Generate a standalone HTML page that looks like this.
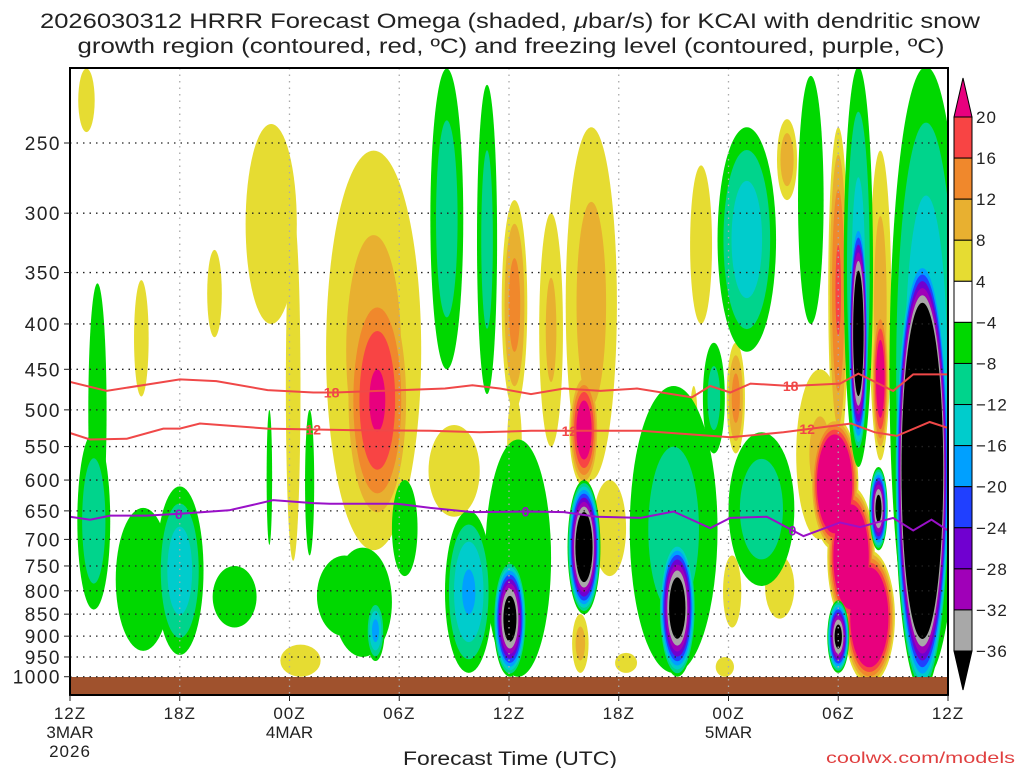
<!DOCTYPE html>
<html><head><meta charset="utf-8">
<style>
html,body{margin:0;padding:0;background:#fff;}
svg{display:block;font-family:"Liberation Sans",sans-serif;}
</style></head>
<body>
<svg id="chart" width="1024" height="768" viewBox="0 0 1024 768" xmlns="http://www.w3.org/2000/svg">
<defs><clipPath id="plotclip"><rect x="70" y="68" width="878" height="609"/></clipPath></defs>
<text x="510" y="28" text-anchor="middle" font-size="21" fill="#222" textLength="940" lengthAdjust="spacingAndGlyphs">2026030312 HRRR Forecast Omega (shaded, <tspan font-style="italic">μ</tspan>bar/s) for KCAI with dendritic snow</text>
<text x="511" y="53" text-anchor="middle" font-size="21" fill="#222" textLength="867" lengthAdjust="spacingAndGlyphs">growth region (contoured, red, ºC) and freezing level (contoured, purple, ºC)</text>
<g id="shading" clip-path="url(#plotclip)"></g>
<rect x="70" y="677" width="878" height="18" fill="#a0522d"/>
<g id="grid"></g>
<g id="lines"></g>
<g id="axes"></g>
<g id="cbar"></g>
<text x="510" y="765" text-anchor="middle" font-size="19" fill="#222" textLength="214" lengthAdjust="spacingAndGlyphs">Forecast Time (UTC)</text>
<text x="1015" y="763" text-anchor="end" font-size="16" fill="#e04040" textLength="189" lengthAdjust="spacingAndGlyphs">coolwx.com/models</text>
</svg>
<script>
// ---- data ----
const pressureTicks=[250,300,350,400,450,500,550,600,650,700,750,800,850,900,950,1000];
const timeTicks=[0,6,12,18,24,30,36,42,48];
const timeLabels=["12Z","18Z","00Z","06Z","12Z","18Z","00Z","06Z","12Z"];
const dateLabels=["3MAR","","4MAR","","","","5MAR","",""];
const cbarLevels=["20","16","12","8","4","−4","−8","−12","−16","−20","−24","−28","−32","−36"];
const posLevels=[4,8,12,16,20];
const posColors=["#e6dc32","#e8b030","#f0882c","#f84444","#e8007e"];
const negLevels=[-4,-8,-12,-16,-20,-24,-28,-32,-36];
const negColors=["#00d800","#00d48c","#00cccc","#00a0ff","#2040ff","#7000d0","#a000b8","#a8a8a8","#000000"];
// omega features: center hour, half-width (h), top p, bottom p, peak value
const blobT=[0.9,3.9,7.9,11.0,12.2,16.6,16.8,12.6,21.0,16.5,24.3,24.3,26.3,28.5,28.1,29.5,27.9,30.4,34.5,34.1,36.4,39.2,36.2,38.8,35.8,42.0,41.0,41.8,42.7,43.7,44.3,44.3,
 1.5,1.3,4.0,6.0,9.0,10.9,13.1,15.0,16.0,16.7,18.3,20.6,22.8,24.5,21.8,24.05,28.1,33.0,33.2,37.0,35.2,37.8,40.5,42.0,43.1,43.1,44.2,46.8,46.6];
const blobW=[0.45,0.4,0.4,1.4,0.4,2.6,1.8,1.1,1.4,0.7,0.7,0.4,0.65,1.4,0.8,0.9,0.45,0.6,0.6,0.2,0.5,0.55,0.5,0.8,0.5,0.55,1.3,1.3,1.3,1.4,0.6,0.45,
 0.5,0.9,1.5,1.3,1.2,0.15,0.25,1.5,1.6,0.5,0.7,0.9,0.55,1.8,1.3,0.9,0.9,2.4,1.0,1.6,0.6,1.8,0.7,0.6,0.8,0.55,0.5,2.0,1.5];
const blobPTop=[206,357,330,238,300,255,350,920,520,780,290,480,300,240,455,600,850,940,265,470,420,235,730,730,950,240,450,510,610,720,255,380,
 360,530,645,610,750,500,500,730,715,820,600,206,215,540,650,740,600,470,700,240,420,530,210,820,205,300,580,205,330];
const blobPBot=[243,483,414,400,740,720,680,1000,660,905,500,620,550,600,610,770,990,990,400,560,560,290,880,860,1000,560,700,720,880,1020,570,560,
 700,840,935,945,880,710,730,900,950,960,770,450,480,1000,990,1000,850,990,1000,430,560,790,400,990,580,560,720,1000,1040];
const blobV=[6,5,5,6,5,10,21,5,6,9,14,5,9,10,26,6,10,5,6,5,14,11,7,6,5,17,9,40,40,40,10,26,
 -6,-12,-6,-15,-6,-6,-6,-8,-8,-18,-6,-11,-10,-7,-17,-42,-48,-10,-44,-15,-10,-11,-6,-40,-14,-48,-40,-16,-80];
// contour lines (hour, pressure)
const line18H=[0,2,6,8,10.8,13.3,14.5,20.5,22,23.5,25.2,27,29,31,34,35,36.1,37.2,39.4,42.1,43.1,45,46.1,48];
const line18P=[465,476,462,464,475,478,478,473,469,473,480,473,476,473,484,470,478,467,470,467,455,476,456,456];
const line12H=[0,1.1,3.1,5.1,6,7.1,10.8,15.3,19.7,22.4,25.2,31.2,36.1,39,42.7,44,45.2,47,48];
const line12P=[531,540,539,525,525,518,525,527,528,530,528,528,537,530,518,530,535,516,524];
const line0H=[0,1.1,2.2,4.2,6,8.7,10,11.1,13.3,14.2,17.9,19.7,22,25,27,28.8,31.2,33,35,36.1,38.1,40.1,42.1,43.2,45,46.1,47.1,48];
const line0P=[660,665,658,658,655,649,640,632,637,638,638,645,652,651,652,660,662,651,680,662,660,694,670,678,662,684,665,684];
const lab18H=[14.3,39.4], lab12H=[13.3,27.3,40.3], lab0H=[5.95,24.9,39.5];

// ---- scales ----
const NS="http://www.w3.org/2000/svg";
function X(h){return 70+h*878/48;}
function Y(p){return 143+(Math.log(p)-Math.log(250))*385;}
function mk(tag,attrs,parent){const e=document.createElementNS(NS,tag);for(const k in attrs)e.setAttribute(k,attrs[k]);parent.appendChild(e);return e;}
function interp(hs,ps,h){for(let i=0;i<hs.length-1;i++){if(h>=hs[i]&&h<=hs[i+1]){const f=(h-hs[i])/(hs[i+1]-hs[i]);return ps[i]+f*(ps[i+1]-ps[i]);}}return ps[ps.length-1];}

// ---- shading ----
const shade=document.getElementById('shading');
function drawLevels(levels,colors,sign){
  levels.forEach((L,li)=>{
    for(let i=0;i<blobV.length;i++){
      const v=blobV[i];
      if(Math.sign(v)!==sign) continue;
      const a=Math.abs(v), l=Math.abs(L);
      if(a<=l) continue;
      const s=Math.sqrt((a-l)/(a-4));
      const yt=Y(blobPTop[i]), yb=Y(blobPBot[i]);
      const el=mk('ellipse',{cx:X(blobT[i]),cy:(yt+yb)/2,rx:blobW[i]*878/48*s,ry:(yb-yt)/2*s,fill:colors[li]},shade);
      
      
    }
  });
}
drawLevels(posLevels,posColors,1);
drawLevels(negLevels,negColors,-1);

// ---- grid ----
const grid=document.getElementById('grid');
pressureTicks.forEach(p=>{
  const g=mk('line',{x1:70,x2:948,y1:Y(p),y2:Y(p),stroke:'#222','stroke-width':1.3,'stroke-dasharray':'1.5 5'},grid);
  
  
});
timeTicks.slice(1,-1).forEach(h=>{
  const g=mk('line',{x1:X(h),x2:X(h),y1:68,y2:695,stroke:'#aaa','stroke-width':1.3,'stroke-dasharray':'1.5 5'},grid);
  
  
});

// ---- lines ----
const lines=document.getElementById('lines');
function drawLine(hs,ps,color,name,labs,txt){
  const d=hs.map((h,i)=>(i?'L':'M')+X(h).toFixed(1)+','+Y(ps[i]).toFixed(1)).join(' ');
  const pth=mk('path',{d:d,fill:'none',stroke:color,'stroke-width':2},lines);
  
  
  labs.forEach(h=>{
    const t=mk('text',{x:X(h),y:Y(interp(hs,ps,h))+5,'text-anchor':'middle','font-size':14,'font-weight':'bold',fill:color},lines);
    t.textContent=txt;
    
    
  });
}
drawLine(line18H,line18P,'#f04848','isotherm-minus18',lab18H,'18');
drawLine(line12H,line12P,'#f04848','isotherm-minus12',lab12H,'12');
drawLine(line0H,line0P,'#9a10c8','freezing-level',lab0H,'0');

// ---- axes ----
const axes=document.getElementById('axes');
const frame=mk('rect',{x:70,y:68,width:878,height:627,fill:'none',stroke:'#000','stroke-width':2},axes);


pressureTicks.forEach(p=>{
  const t=mk('text',{x:61,y:Y(p)+7,'text-anchor':'end','font-size':19,'letter-spacing':1.5,fill:'#222'},axes);
  t.textContent=p;
  
  
  mk('line',{x1:64,x2:70,y1:Y(p),y2:Y(p),stroke:'#222'},axes);
});
timeTicks.forEach((h,i)=>{
  mk('line',{x1:X(h),x2:X(h),y1:695,y2:701,stroke:'#222'},axes);
  const t=mk('text',{x:X(h),y:719,'text-anchor':'middle','font-size':17,'letter-spacing':1,fill:'#222'},axes);
  t.textContent=timeLabels[i];
  
  
  if(dateLabels[i]){
    const d=mk('text',{x:X(h),y:738,'text-anchor':'middle','font-size':17,fill:'#222'},axes);
    d.textContent=dateLabels[i];
    
    
  }
});
const yr=mk('text',{x:X(0),y:757,'text-anchor':'middle','font-size':17,'letter-spacing':1,fill:'#222'},axes);
yr.textContent='2026';



// ---- colorbar ----
const cb=document.getElementById('cbar');
const cbX=954,cbW=18,cbTop=117,cbStep=(651-117)/13;
const cbColors=["#f84444","#f0882c","#e8b030","#e6dc32","#ffffff","#00d800","#00d48c","#00cccc","#00a0ff","#2040ff","#7000d0","#a000b8","#a8a8a8"];
const tri1=mk('polygon',{points:`${cbX},${cbTop} ${cbX+cbW},${cbTop} ${cbX+cbW/2},78`,fill:'#e8007e',stroke:'#000'},cb);


cbColors.forEach((c,i)=>{
  const r=mk('rect',{x:cbX,y:cbTop+i*cbStep,width:cbW,height:cbStep,fill:c,stroke:'#000','stroke-width':1},cb);
  
  
});
const tri2=mk('polygon',{points:`${cbX},651 ${cbX+cbW},651 ${cbX+cbW/2},690`,fill:'#000',stroke:'#000'},cb);


cbarLevels.forEach((s,i)=>{
  const t=mk('text',{x:976,y:cbTop+i*cbStep+6,'font-size':17,fill:'#222','letter-spacing':1},cb);
  t.textContent=s;
  
  
});
</script>
</body></html>
